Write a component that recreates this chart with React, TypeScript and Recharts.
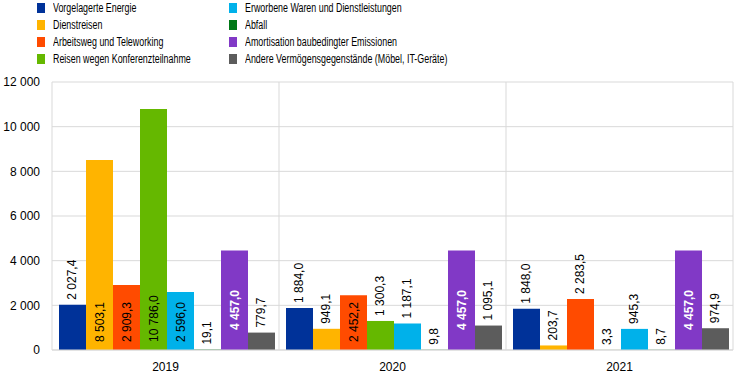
import { Bar, BarChart, CartesianGrid, LabelList, XAxis, YAxis } from "recharts";

const years = ["2019", "2020", "2021"];
const vorgelagerteEnergie = [2027.4, 1884.0, 1848.0];
const dienstreisen = [8503.1, 949.1, 203.7];
const arbeitsweg = [2909.3, 2452.2, 2283.5];
const konferenzen = [10786.0, 1300.3, 3.3];
const erworbeneWaren = [2596.0, 1187.1, 945.3];
const abfall = [19.1, 9.8, 8.7];
const amortisation = [4457.0, 4457.0, 4457.0];
const andere = [779.7, 1095.1, 974.9];
const yTicks = [0, 2000, 4000, 6000, 8000, 10000, 12000];

const series = [
  { key: "ve", name: "Vorgelagerte Energie", color: "#003299", values: vorgelagerteEnergie },
  { key: "dr", name: "Dienstreisen", color: "#ffb400", values: dienstreisen },
  { key: "aw", name: "Arbeitsweg und Teleworking", color: "#ff4b00", values: arbeitsweg },
  { key: "rk", name: "Reisen wegen Konferenzteilnahme", color: "#65b800", values: konferenzen },
  { key: "ew", name: "Erworbene Waren und Dienstleistungen", color: "#00b1ea", values: erworbeneWaren },
  { key: "ab", name: "Abfall", color: "#007816", values: abfall },
  { key: "am", name: "Amortisation baubedingter Emissionen", color: "#8139c6", values: amortisation },
  { key: "an", name: "Andere Vermögensgegenstände (Möbel, IT-Geräte)", color: "#5c5c5c", values: andere },
];

const data = years.map((year, i) => {
  const row: Record<string, string | number> = { year };
  series.forEach((s) => (row[s.key] = s.values[i]));
  return row;
});

const FONT = '"Liberation Sans", Arial, sans-serif';

function fmt(v: number, dec: number) {
  const [i, d] = v.toFixed(dec).split(".");
  const int = i.replace(/\B(?=(\d{3})+(?!\d))/g, " ");
  return d ? `${int},${d}` : int;
}

function makeLabel(white: boolean) {
  return (props: any) => {
    const { x, y, width, height, value } = props;
    const cx = Number(x) + Number(width) / 2;
    const h = Number(height);
    const inside = h > 54;
    const ty = inside ? Number(y) + h - (white ? 20 : 8) : Number(y) - 5;
    return (
      <text
        x={cx}
        y={ty}
        transform={`rotate(-90, ${cx}, ${ty})`}
        textAnchor="start"
        dominantBaseline="central"
        fontSize={12}
        fontFamily={FONT}
        fontWeight={inside && white ? "bold" : "normal"}
        fill={inside && white ? "#ffffff" : "#000000"}
      >
        {fmt(Number(value), 1)}
      </text>
    );
  };
}

export default function App() {
  return (
    <div style={{ position: "absolute", left: 0, top: 0, width: 743, height: 378, background: "#fff" }}>
      <div style={{ position: "absolute", left: 0, top: 0, width: 743, height: 70, fontFamily: FONT, fontSize: 12 }}>
        {series.map((s, i) => {
          const col = i < 4 ? 0 : 1;
          const row = i % 4;
          return (
            <div key={s.key} style={{ position: "absolute", left: col ? 229 : 37, top: row * 17 }}>
              <span
                style={{ position: "absolute", left: 0, top: 3, width: 8, height: 10, background: s.color }}
              />
              <span
                style={{
                  position: "absolute",
                  left: 16,
                  top: 0,
                  whiteSpace: "nowrap",
                  lineHeight: "16px",
                  display: "inline-block",
                  transform: "scaleX(0.74)",
                  transformOrigin: "left center",
                  color: "#000",
                }}
              >
                {s.name}
              </span>
            </div>
          );
        })}
      </div>
      <div style={{ position: "absolute", left: 0, top: 0 }}>
        <BarChart
          width={743}
          height={378}
          data={data}
          margin={{ top: 82, right: 10, bottom: 8, left: 0 }}
          barCategoryGap={7}
          barGap={0}
        >
          <CartesianGrid
            stroke="#d9d9d9"
            verticalCoordinatesGenerator={({ offset }: any) =>
              years.map((_, i) => offset.left + (offset.width * (i + 1)) / years.length)
            }
          />
          <XAxis
            dataKey="year"
            axisLine={{ stroke: "#d9d9d9" }}
            tickLine={false}
            height={20}
            tickMargin={6}
            tick={{ fill: "#000", fontSize: 12, fontFamily: FONT }}
          />
          <YAxis
            width={52}
            domain={[0, 12000]}
            ticks={yTicks}
            interval={0}
            axisLine={{ stroke: "#d9d9d9" }}
            tickLine={false}
            tickMargin={6}
            tickFormatter={(v: number) => fmt(v, 0)}
            tick={{ fill: "#000", fontSize: 12, fontFamily: FONT }}
          />
          {series.map((s) => (
            <Bar key={s.key} dataKey={s.key} name={s.name} fill={s.color} isAnimationActive={false}>
              <LabelList dataKey={s.key} content={makeLabel(s.key === "am")} />
            </Bar>
          ))}
        </BarChart>
      </div>
    </div>
  );
}
